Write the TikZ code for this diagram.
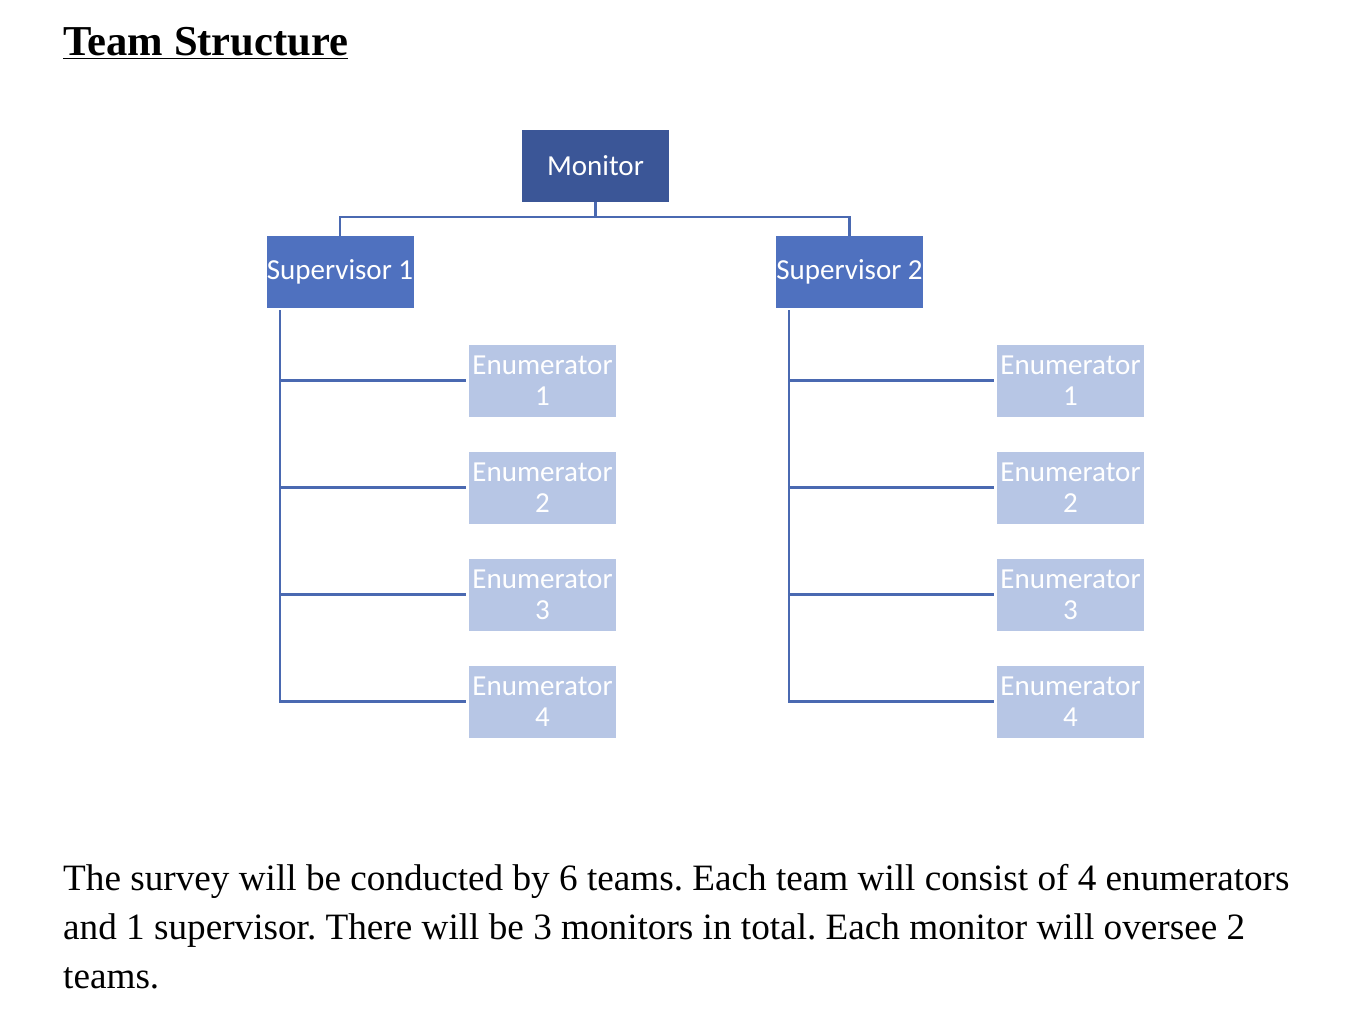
\documentclass[tikz,border=0pt]{standalone}
\usepackage{fontspec}
\setmainfont{Liberation Serif}
\newfontfamily\boxfont{Carlito}
\definecolor{monc}{HTML}{3B5697}
\definecolor{supc}{HTML}{4F71BF}
\definecolor{enuc}{HTML}{B7C6E5}
\definecolor{linec}{HTML}{4A69B1}
\frenchspacing
\begin{document}
\begin{tikzpicture}[x=1pt,y=-1pt,
  orgbox/.style={rectangle, minimum width=147pt, minimum height=72pt, inner sep=0pt,
    align=center, text=white, font=\boxfont\fontsize{29}{31}\selectfont},
  monbox/.style={orgbox, fill=monc},
  supbox/.style={orgbox, fill=supc},
  enubox/.style={orgbox, fill=enuc},
  conn/.style={draw=linec, line width=2.2pt}]
\useasboundingbox (0,0) rectangle (1362,1032);
% title
\node[anchor=base west, inner sep=0pt, font=\fontsize{42.6}{48}\selectfont\bfseries] (title) at (63,56) {\underline{Team Structure}};
% boxes
\node[monbox] (mon) at (595.5,166) {Monitor};
\node[supbox] (s1) at (340,272) {Supervisor 1};
\node[supbox] (s2) at (849.5,272) {Supervisor 2};
\foreach \i/\y in {1/380.5,2/487.5,3/594.5,4/701.5}{
  \node[enubox] (a\i) at (542.5,\y) {Enumerator\\\i};
  \node[enubox] (b\i) at (1070.5,\y) {Enumerator\\\i};
}
% connectors
\draw[conn] (mon.south) -- ++(0,15) coordinate (mj) -| (s1.north);
\draw[conn] (mj) -| (s2.north);
\coordinate (t1) at (280,310);
\coordinate (t2) at (789,310);
\draw[conn] (t1) |- ([xshift=-3pt]a4.west);
\draw[conn] (t2) |- ([xshift=-3pt]b4.west);
\foreach \i in {1,2,3}{
  \draw[conn] (t1 |- a\i.west) -- ([xshift=-3pt]a\i.west);
  \draw[conn] (t2 |- b\i.west) -- ([xshift=-3pt]b\i.west);
}
% body text
\node[anchor=base west, inner sep=0pt, align=left, font=\fontsize{37.2}{49}\selectfont] (body) at (63,988)
  {The survey will be conducted by 6 teams. Each team will consist of 4 enumerators\\
   and 1 supervisor. There will be 3 monitors in total. Each monitor will oversee 2\\
   teams.};
\end{tikzpicture}
\end{document}
